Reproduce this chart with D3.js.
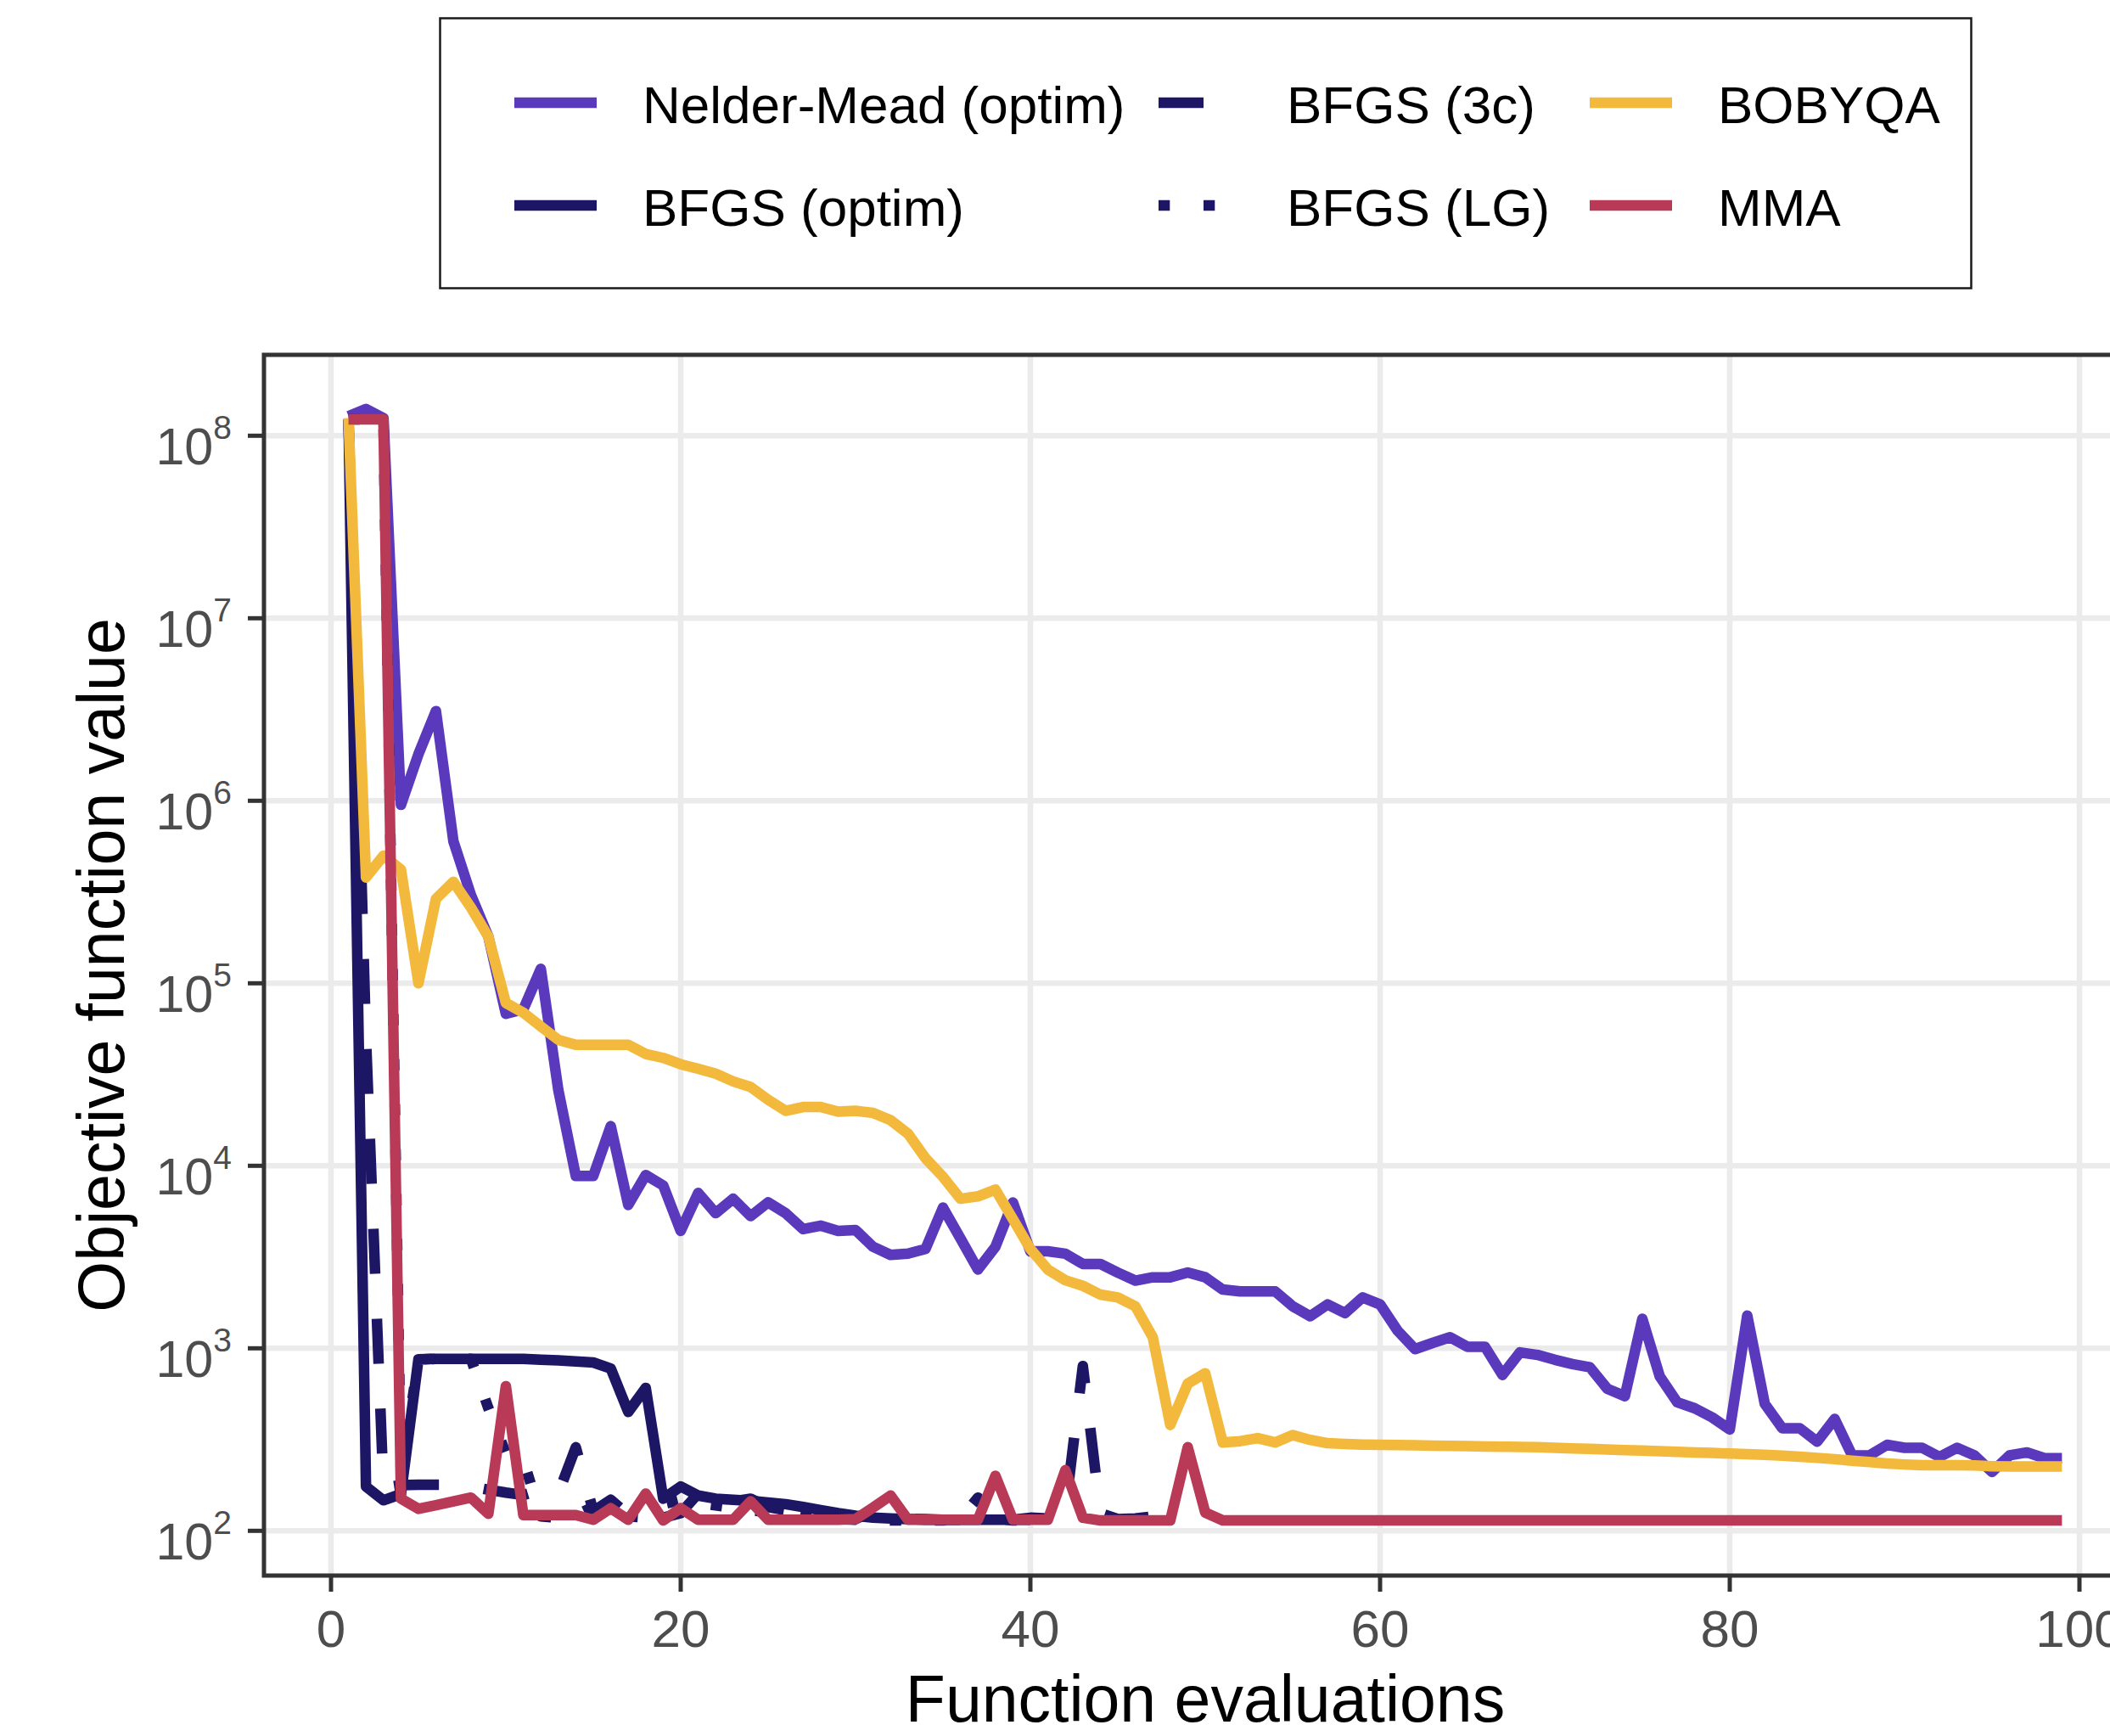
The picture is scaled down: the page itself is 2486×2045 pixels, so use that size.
<!DOCTYPE html>
<html><head><meta charset="utf-8">
<script src="https://cdn.jsdelivr.net/npm/d3@7"></script>
<style>html,body{margin:0;padding:0;background:#fff;} svg{display:block;}</style>
</head><body>
<svg id="chart" width="2486" height="2045"></svg>
<script>
// ---------------- data (objective value at function evaluation 1,2,3,...) ----------------
const nelderMead = [1.28e8,1.40e8,1.25e8,9.5e5,1.8e6,3.1e6,6.0e5,3.05e5,1.8e5,6.8e4,
  7.2e4,1.2e5,2.6e4,8.8e3,8.8e3,1.65e4,6.1e3,8.9e3,7.8e3,4.4e3,
  7.1e3,5.5e3,6.6e3,5.3e3,6.3e3,5.5e3,4.5e3,4.7e3,4.4e3,4.45e3,
  3.6e3,3.25e3,3.3e3,3.5e3,5.9e3,4.0e3,2.7e3,3.6e3,6.3e3,3.4e3,
  3.4e3,3.3e3,2.9e3,2.9e3,2.6e3,2.35e3,2.45e3,2.45e3,2.6e3,2.45e3,
  2.1e3,2.05e3,2.05e3,2.05e3,1.7e3,1.5e3,1.74e3,1.56e3,1.9e3,1.74e3,
  1250,990,1070,1150,1020,1020,715,950,920,865,
  820,787,600,547,1450,700,506,469,418,359,
  1510,497,365,365,308,410,259,259,296,285,
  285,254,285,259,210,259,269,250,250];
const bfgsOptim = [1.23e8,175,147,159,870,875,875,875,875,875,
  875,865,858,848,836,775,448,607,150,175,
  156,150,148,146,143,140,135,130,125,121,
  118,117,116,116,115,115,115,115,115,115];
const bfgs3c = [1.23e8,5.0e4,172,178,179,179,179,175,168,162,
  157,168,160,287,128,148,122,120,118,125,
  160,150,145,150,135,130,125,120,118,116,
  128,126,116,115,115,115,118,116,115,118,
  117,130,800,125,116,117,120];
const bfgsLG = [1.23e8,1.23e8,1.23e8,200,870,875,875,875,470,265,
  245,120,118,122,135,128,120,118,140,148,
  142,138,134,130,126,122,119,117,116,115,
  115,114,114,114,114,116,152,118,114,114];
const bobyqa = [1.25e8,3.8e5,5.0e5,4.2e5,1.0e5,2.9e5,3.6e5,2.6e5,1.8e5,7.8e4,
  6.9e4,5.8e4,4.9e4,4.6e4,4.6e4,4.6e4,4.6e4,4.1e4,3.9e4,3.6e4,
  3.4e4,3.2e4,2.9e4,2.7e4,2.3e4,2.0e4,2.1e4,2.1e4,1.98e4,2.0e4,
  1.95e4,1.78e4,1.5e4,1.1e4,8.7e3,6.6e3,6.8e3,7.4e3,5.1e3,3.5e3,
  2.7e3,2.36e3,2.2e3,1.97e3,1.9e3,1.7e3,1.15e3,380,640,730,
  305,310,322,305,335,315,302,299,297,296,
  295,294,293,292,291,290,289,288,287,285,
  283,281,279,277,275,273,271,269,267,265,
  263,261,258,255,251,247,242,238,234,231,
  229,229,229,228,226,225,225,225,225];
const mma = [1.23e8,1.23e8,1.23e8,150,132,138,145,152,124,620,
  122,122,122,122,115,133,115,160,114,133,
  115,115,115,145,115,115,115,115,115,116,
  134,156,115,115,115,115,115,200,115,115,
  115,215,118,114,114,114,114,114,287,126,
  114,114,114,114,114,114,114,114,114,114,
  114,114,114,114,114,114,114,114,114,114,
  114,114,114,114,114,114,114,114,114,114,
  114,114,114,114,114,114,114,114,114,114,
  114,114,114,114,114,114,114,114,114];

const seriesNames = ["Nelder-Mead (optim)","BFGS (optim)","BFGS (3c)","BFGS (LG)","BOBYQA","MMA"];
const seriesValues = [nelderMead,bfgsOptim,bfgs3c,bfgsLG,bobyqa,mma];
const xTickValues = [0,20,40,60,80,100];
const yTickExponents = [2,3,4,5,6,7,8];

// ---------------- styles ----------------
const colors = ["#5A39BC","#1C1664","#1C1664","#1C1664","#F3B93C","#B83A57"];
const dashes = [null,null,"53 53","13.3 39.7",null,null];
const LW = 12.5;
const FONT = "'Liberation Sans', Arial, Helvetica, sans-serif";

const svg = d3.select("#chart");
svg.append("rect").attr("width",2486).attr("height",2045).attr("fill","#fff");

const panel = {left:311, right:2529, top:418, bottom:1856};
const x = d3.scaleLinear().domain([0,100]).range([390,2450]);
const y = d3.scaleLog().domain([1e2,1e8]).range([1803.3,513.3]);

const g = svg.append("g");
g.append("rect").attr("x",panel.left).attr("y",panel.top)
  .attr("width",panel.right-panel.left).attr("height",panel.bottom-panel.top).attr("fill","#fff");

// grid
g.selectAll("line.vg").data(xTickValues).enter().append("line")
  .attr("x1",d=>x(d)).attr("x2",d=>x(d)).attr("y1",panel.top).attr("y2",panel.bottom)
  .attr("stroke","#EBEBEB").attr("stroke-width",6.5);
g.selectAll("line.hg").data(yTickExponents).enter().append("line")
  .attr("y1",d=>y(Math.pow(10,d))).attr("y2",d=>y(Math.pow(10,d))).attr("x1",panel.left).attr("x2",panel.right)
  .attr("stroke","#EBEBEB").attr("stroke-width",6.5);

// lines
const lineGen = d3.line().x((d,i)=>x(i+1)).y(d=>y(d));
seriesValues.forEach((vals,k)=>{
  const p = g.append("path").attr("d",lineGen(vals)).attr("fill","none")
    .attr("stroke",colors[k]).attr("stroke-width",LW)
    .attr("stroke-linejoin","round").attr("stroke-linecap","butt");
  if (dashes[k]) p.attr("stroke-dasharray",dashes[k]);
});

// panel border
g.append("rect").attr("x",panel.left).attr("y",panel.top)
  .attr("width",panel.right-panel.left).attr("height",panel.bottom-panel.top)
  .attr("fill","none").attr("stroke","#333333").attr("stroke-width",5);

// x axis ticks + labels
g.selectAll("line.xt").data(xTickValues).enter().append("line")
  .attr("x1",d=>x(d)).attr("x2",d=>x(d)).attr("y1",panel.bottom).attr("y2",panel.bottom+19)
  .attr("stroke","#333333").attr("stroke-width",5);
g.selectAll("text.xl").data(xTickValues).enter().append("text")
  .attr("x",d=>x(d)).attr("y",1940).attr("text-anchor","middle")
  .attr("font-family",FONT).attr("font-size",62).attr("fill","#4D4D4D").text(d=>d);

// y axis ticks + labels
g.selectAll("line.yt").data(yTickExponents).enter().append("line")
  .attr("y1",d=>y(Math.pow(10,d))).attr("y2",d=>y(Math.pow(10,d))).attr("x1",panel.left-19).attr("x2",panel.left)
  .attr("stroke","#333333").attr("stroke-width",5);
yTickExponents.forEach(e=>{
  const t = g.append("text").attr("x",273).attr("y",y(Math.pow(10,e))+34).attr("text-anchor","end")
    .attr("font-family",FONT).attr("font-size",61).attr("fill","#4D4D4D");
  t.append("tspan").text("10");
  t.append("tspan").attr("dy",-30).attr("font-size",39).text(e);
});

// axis titles
svg.append("text").attr("x",(panel.left+panel.right)/2).attr("y",2028).attr("text-anchor","middle")
  .attr("font-family",FONT).attr("font-size",77).attr("fill","#000").text("Function evaluations");
svg.append("text").attr("transform",`translate(146,${(panel.top+panel.bottom)/2}) rotate(-90)`)
  .attr("text-anchor","middle").attr("font-family",FONT).attr("font-size",77).attr("fill","#000")
  .text("Objective function value");

// legend
const leg = svg.append("g");
leg.append("rect").attr("x",518.5).attr("y",21.5).attr("width",1804).attr("height",318)
  .attr("fill","#fff").attr("stroke","#1a1a1a").attr("stroke-width",2.5);
const colX = [606,1365,1873], rowY = [121,242];
seriesNames.forEach((name,k)=>{
  const cx = colX[Math.floor(k/2)], cy = rowY[k%2];
  const l = leg.append("line").attr("x1",cx).attr("x2",cx+97).attr("y1",cy).attr("y2",cy)
    .attr("stroke",colors[k]).attr("stroke-width",LW).attr("stroke-linecap","butt");
  if (dashes[k]) l.attr("stroke-dasharray",dashes[k]);
  leg.append("text").attr("x",cx+151).attr("y",cy+24).attr("font-family",FONT)
    .attr("font-size",62).attr("fill","#000").text(name);
});
</script>
</body></html>
